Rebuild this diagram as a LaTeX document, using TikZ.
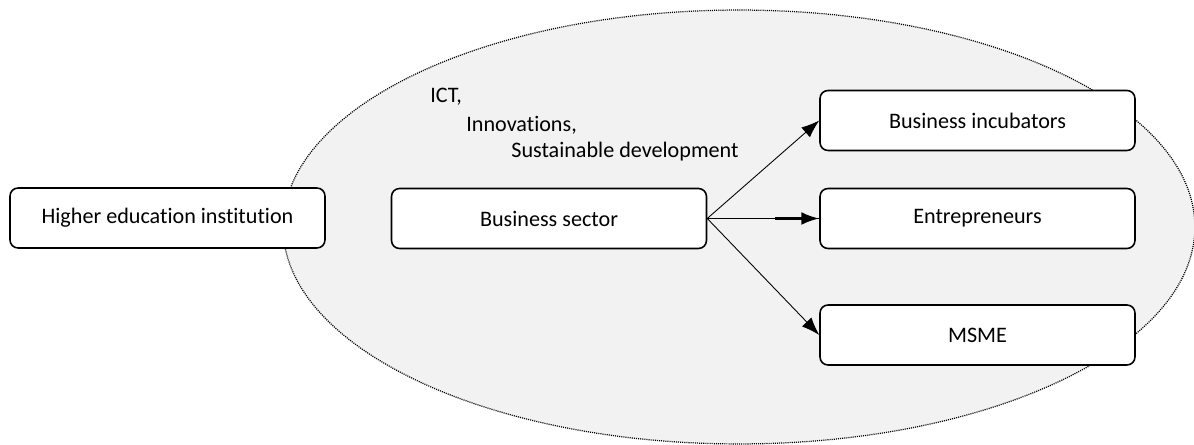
\documentclass[tikz,border=0pt]{standalone}
\usepackage{fontspec}
\setmainfont{Carlito}[Ligatures=NoCommon]
\usetikzlibrary{arrows.meta,shapes.geometric}
\tikzset{
  >={Latex[length=3.6mm,width=2.6mm]},
  {field/.style} ={ellipse, draw, line width=0.7pt,
                   dash pattern=on 0.6pt off 0.6pt, fill=black!5,
                   minimum width=18.24cm, minimum height=8.68cm, inner sep=0},
  {box/.style} ={rectangle, rounded corners=1.6mm, draw, line width=0.9pt,
                 fill=white, minimum width=6.3cm, minimum height=1.2cm,
                 text centered, font=\fontsize{12.6}{15}\selectfont},
  {tag/.style} ={anchor=west, inner sep=0, font=\fontsize{12.6}{15}\selectfont},
  {link/.style} ={->, line width=0.5pt},
}

\begin{document}
\begin{tikzpicture}[x=0.02cm,y=-0.02cm]
\useasboundingbox (0,0) rectangle (1194,445);
% grey field behind the business side
\node[field] (zone) at (739,227) {};
\node[box] (hei) at (167.5,218) {Higher education institution\hspace{0.35cm}};
\node[box] (bs) at (549,218.5) {Business sector};
\node[box] (inc) at (977.5,120.5) {Business incubators};
\node[box] (ent) at (977.5,218.5) {Entrepreneurs};
\node[box] (msme) at (977.5,335) {MSME};
% topics
\node[tag] (ict) at (430,97) {ICT,};
\node[tag] (inno) at (466,125) {Innovations,};
\node[tag] (sus) at (511,152) {Sustainable development};
% links
\draw[link] (bs.east) -- (inc.west);
\draw[line width=0.5pt] (bs.east) -- (ent.west);
\coordinate (ent-in) at (775,218.5);
\draw[->, line width=1.4pt] (ent-in) -- (ent.west);
\draw[link] (bs.east) -- (msme.west);
\end{tikzpicture}
\end{document}
